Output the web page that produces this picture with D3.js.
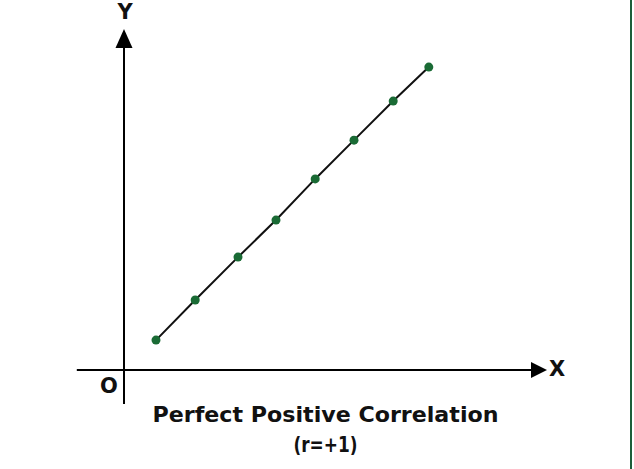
<!DOCTYPE html>
<html>
<head>
<meta charset="utf-8">
<script src="https://cdn.jsdelivr.net/npm/d3@7"></script>
<style>
  body { margin: 0; background: #fff; }
  text { font-family: "DejaVu Sans", sans-serif; font-weight: 700; fill: #111; }
</style>
</head>
<body>
<script>
"use strict";

var width = 634;
var height = 469;

// data (axis units, origin at O)
var xValues = [0.8, 1.78, 2.85, 3.8, 4.78, 5.75, 6.73, 7.62];
var yValues = [0.88, 2.06, 3.32, 4.41, 5.62, 6.76, 7.91, 8.91];
var titleLines = ["Perfect Positive Correlation", "(r=+1)"];
var titleWidths = [346, 64];

var points = xValues.map(function(x, i) { return {x: x, y: yValues[i]}; });

var x = d3.scaleLinear().domain([0, 10]).range([124, 524]);
var y = d3.scaleLinear().domain([0, 10]).range([370, 30]);

var svg = d3.select("body").append("svg")
    .attr("width", width)
    .attr("height", height);

// green frame line on the right edge
svg.append("line")
    .attr("x1", 631).attr("x2", 631)
    .attr("y1", 0).attr("y2", height)
    .attr("stroke", "#1d5e3a")
    .attr("stroke-width", 2);

// axes (no ticks, just arrows)
svg.append("line")
    .attr("x1", x(-1.18)).attr("x2", x(10.2))
    .attr("y1", y(0)).attr("y2", y(0))
    .attr("stroke", "#000").attr("stroke-width", 2);
svg.append("path")
    .attr("d", "M" + (x(10.2) - 1) + "," + (y(0) - 8) + "L" + (x(10.2) + 15) + "," + y(0) + "L" + (x(10.2) - 1) + "," + (y(0) + 8) + "Z")
    .attr("fill", "#000");

svg.append("line")
    .attr("x1", x(0)).attr("x2", x(0))
    .attr("y1", y(-1.0)).attr("y2", y(9.5))
    .attr("stroke", "#000").attr("stroke-width", 2);
svg.append("path")
    .attr("d", "M" + (x(0) - 8.5) + "," + (y(9.5) + 1) + "L" + x(0) + "," + (y(9.5) - 18) + "L" + (x(0) + 8.5) + "," + (y(9.5) + 1) + "Z")
    .attr("fill", "#000");

svg.append("text").attr("x", x(0) + 1).attr("y", 19)
    .attr("text-anchor", "middle").attr("font-size", 21).text("Y");
svg.append("text").attr("x", 549).attr("y", 376)
    .attr("font-size", 21).text("X");
svg.append("text").attr("x", 109).attr("y", 393)
    .attr("text-anchor", "middle").attr("font-size", 21).text("O");

// the line through the points
svg.append("path")
    .datum(points)
    .attr("d", d3.line().x(function(d) { return x(d.x); }).y(function(d) { return y(d.y); }))
    .attr("fill", "none")
    .attr("stroke", "#111")
    .attr("stroke-width", 2);

svg.selectAll("circle.pt")
    .data(points)
    .enter().append("circle")
    .attr("class", "pt")
    .attr("cx", function(d) { return x(d.x); })
    .attr("cy", function(d) { return y(d.y); })
    .attr("r", 4.5)
    .attr("fill", "#1a6b35");

// caption
svg.selectAll("text.title")
    .data(titleLines)
    .enter().append("text")
    .attr("class", "title")
    .attr("x", 325.5)
    .attr("y", function(d, i) { return 422 + i * 30; })
    .attr("text-anchor", "middle")
    .attr("font-size", 20.5)
    .attr("textLength", function(d, i) { return titleWidths[i]; })
    .attr("lengthAdjust", "spacingAndGlyphs")
    .text(function(d) { return d; });
</script>
</body>
</html>
